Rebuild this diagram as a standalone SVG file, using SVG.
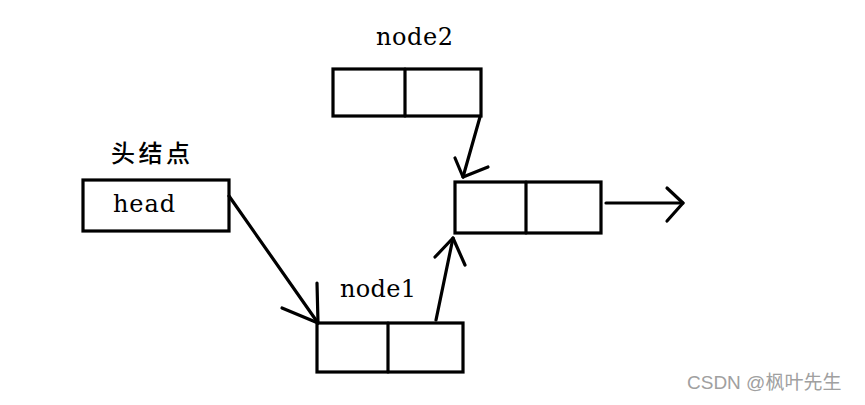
<svg xmlns="http://www.w3.org/2000/svg" width="865" height="405" viewBox="0 0 865 405">
<style>
.box{fill:none;stroke:#000;stroke-width:3.2}
.ln{fill:none;stroke:#000;stroke-width:3.2;stroke-linecap:round;stroke-linejoin:round}
.lbl{font-family:"DejaVu Serif","Liberation Serif",serif;font-size:24px;fill:#000}
.cjk{font-family:"Noto Sans CJK SC","Noto Sans CJK JP",sans-serif;font-size:24px;font-weight:500;fill:#000}
.wm{font-family:"Liberation Sans","Noto Sans CJK SC",sans-serif;font-size:19px;fill:#a0a0a0}
</style>
<rect width="865" height="405" fill="#fff"/>
<g id="head">
<text class="cjk" x="111" y="162" textLength="79">头结点</text>
<rect class="box" x="83" y="180" width="146" height="51"/>
<text class="lbl" x="113" y="212" textLength="62">head</text>
</g>
<g id="node2">
<text class="lbl" x="376" y="45" textLength="77">node2</text>
<rect class="box" x="333" y="69" width="148" height="47"/>
<line class="ln" x1="405" y1="69" x2="405" y2="116"/>
</g>
<g id="node1">
<text class="lbl" x="340" y="297" textLength="76">node1</text>
<rect class="box" x="317" y="323" width="146" height="49"/>
<line class="ln" x1="388" y1="323" x2="388" y2="372"/>
</g>
<g id="node3">
<rect class="box" x="455" y="182" width="146" height="51"/>
<line class="ln" x1="526" y1="182" x2="526" y2="233"/>
</g>
<g id="connectors">
<polyline class="ln" points="229,196 318,323"/>
<polyline class="ln" points="282,308 318,323 317,283"/>
<polyline class="ln" points="436,320 453,238"/>
<polyline class="ln" points="435,257 453,238 465,265"/>
<polyline class="ln" points="480,117 463,177"/>
<polyline class="ln" points="455,158 463,177 488,167"/>
<polyline class="ln" points="606,203 683,203"/>
<polyline class="ln" points="667,188 683,203 667,221"/>
</g>
<text class="wm" x="687" y="389">CSDN @枫叶先生</text>
</svg>
